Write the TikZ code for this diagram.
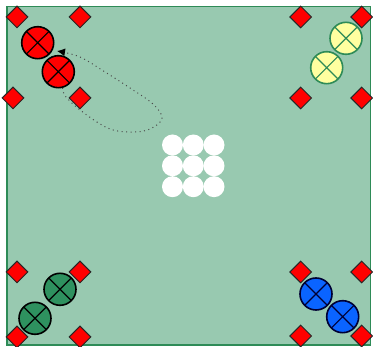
\documentclass[tikz,border=0pt]{standalone}
\usetikzlibrary{positioning, arrows.meta, shapes.geometric}

\definecolor{boardbg}{RGB}{152,201,176}
\definecolor{boardline}{RGB}{46,139,87}
\definecolor{pieceyellow}{RGB}{255,255,160}
\definecolor{piecegreen}{RGB}{46,145,95}
\definecolor{pieceblue}{RGB}{10,100,255}

\begin{document}
\begin{tikzpicture}[
    x=1pt, y=-1pt,          % 画像のピクセル座標をそのまま使う
    thick,
    >=Stealth,
    % 駒（×印入りの円）
    piece/.style={
        circle, minimum size=32pt, inner sep=0pt,
        draw=#1, line width=1.6pt,
        path picture={
            \draw [#1, line width=1.2pt]
                (path picture bounding box.north west) -- (path picture bounding box.south east)
                (path picture bounding box.north east) -- (path picture bounding box.south west);
        }
    },
    % 赤いひし形のマス
    spot/.style={
        diamond, minimum size=22pt, inner sep=0pt,
        draw=black!85, fill=red, line width=1pt
    },
    % 中央の白い穴
    hole/.style={circle, minimum size=21pt, inner sep=0pt, fill=white}
]

    \useasboundingbox (0, 0) rectangle (373, 347);

    % --- 1. 盤面 ---
    \draw [boardline, fill=boardbg, line width=1.5pt] (7, 6.5) rectangle (370.5, 345);

    % --- 2. 中央の穴（3x3） ---
    \foreach \i/\x in {1/172.5, 2/193.3, 3/214} {
        \foreach \j/\y in {1/145, 2/165.8, 3/186.7} {
            \node [hole] (hole-\i-\j) at (\x, \y) {};
        }
    }

    % --- 3. 駒 ---
    % 【左上：赤】
    \node [piece=black, fill=red] (red1) at (37.7, 42.7) {};
    \node [piece=black, fill=red] (red2) at (58.3, 71.7) {};
    % 【右上：黄】
    \node [piece=boardline, fill=pieceyellow] (yellow1) at (346, 38.3) {};
    \node [piece=boardline, fill=pieceyellow] (yellow2) at (326.7, 67.7) {};
    % 【左下：緑】
    \node [piece=black, fill=piecegreen] (green1) at (60, 289.3) {};
    \node [piece=black, fill=piecegreen] (green2) at (35, 318.3) {};
    % 【右下：青】
    \node [piece=black!80!blue, fill=pieceblue] (blue1) at (316, 294) {};
    \node [piece=black!80!blue, fill=pieceblue] (blue2) at (342.7, 316.7) {};

    % --- 4. 赤駒の移動の軌跡（点線） ---
    \coordinate (move_tip) at (57, 51);
    \draw [gray!60!black, line width=1pt, dash pattern=on 1pt off 3.5pt,
           smooth, tension=0.6,
           -{Latex[black, length=8pt, width=8pt]}]
        plot coordinates {
            (red2.-75) (66, 97) (84, 113) (110, 129) (135, 132) (152, 128)
            (162, 118) (153, 104) (130, 88) (105, 72) (80, 57) (move_tip)
        };

    % --- 5. ひし形のマス ---
    % 【左上】
    \node [spot] (spot-tl-1) at (17, 17) {};
    \node [spot] (spot-tl-2) at (80, 17) {};
    \node [spot] (spot-tl-3) at (13, 98) {};
    \node [spot] (spot-tl-4) at (80, 98) {};
    % 【右上】
    \node [spot] (spot-tr-1) at (300.7, 17) {};
    \node [spot] (spot-tr-2) at (361.7, 17) {};
    \node [spot] (spot-tr-3) at (300.7, 98) {};
    \node [spot] (spot-tr-4) at (361.7, 98) {};
    % 【左下】
    \node [spot] (spot-bl-1) at (17, 272) {};
    \node [spot] (spot-bl-2) at (80, 272) {};
    \node [spot] (spot-bl-3) at (17, 337) {};
    \node [spot] (spot-bl-4) at (80, 337) {};
    % 【右下】
    \node [spot] (spot-br-1) at (300.7, 272) {};
    \node [spot] (spot-br-2) at (361.7, 272) {};
    \node [spot] (spot-br-3) at (300.7, 336) {};
    \node [spot] (spot-br-4) at (361.7, 336) {};

\end{tikzpicture}
\end{document}
